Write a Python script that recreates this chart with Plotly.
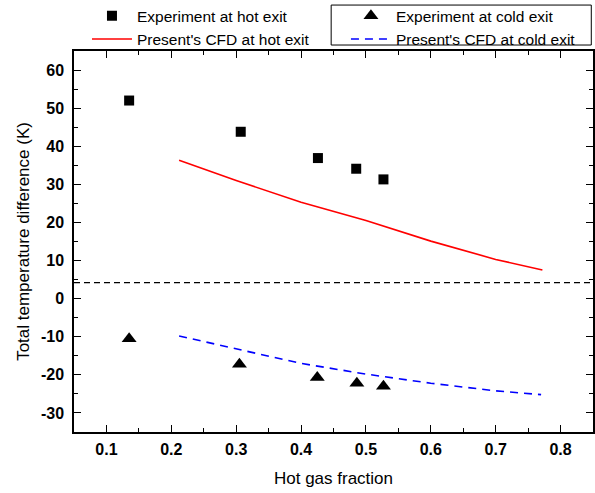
import plotly.graph_objects as go

# Experimental data
exp_x_hot = [0.135, 0.307, 0.426, 0.485, 0.527]
exp_hot = [52.0, 43.8, 36.9, 34.1, 31.3]
exp_x_cold = [0.135, 0.305, 0.425, 0.486, 0.527]
exp_cold = [-10.5, -17.2, -20.7, -22.2, -23.0]

# CFD results
cfd_x = [0.212, 0.3, 0.4, 0.5, 0.6, 0.7, 0.772]
cfd_hot = [36.3, 31.0, 25.3, 20.5, 15.1, 10.3, 7.5]
cfd_x_cold = [0.212, 0.3, 0.4, 0.5, 0.6, 0.7, 0.77]
cfd_cold = [-9.8, -13.1, -17.0, -19.8, -22.2, -24.2, -25.2]

ref_level = 4.2

x_ticks = [0.1, 0.2, 0.3, 0.4, 0.5, 0.6, 0.7, 0.8]
y_ticks = [-30, -20, -10, 0, 10, 20, 30, 40, 50, 60]

FONT = "Liberation Sans, Arial"

fig = go.Figure()
fig.add_trace(go.Scatter(x=exp_x_hot, y=exp_hot, mode="markers", name="Experiment at hot exit",
                         marker=dict(symbol="square", size=10, color="black"), legend="legend"))
fig.add_trace(go.Scatter(x=cfd_x, y=cfd_hot, mode="lines", name="Present's CFD at hot exit",
                         line=dict(color="red", width=1.6), legend="legend"))
fig.add_trace(go.Scatter(x=exp_x_cold, y=exp_cold, mode="markers", name="Experiment at cold exit",
                         marker=dict(symbol="triangle-up", size=13, color="black"), legend="legend2"))
fig.add_trace(go.Scatter(x=cfd_x_cold, y=cfd_cold, mode="lines", name="Present's CFD at cold exit",
                         line=dict(color="blue", width=1.6, dash="8px,6px"), legend="legend2"))

fig.add_hline(y=ref_level, line=dict(color="black", width=1.2, dash="6px,4px"))

axis_common = dict(showline=True, linecolor="black", linewidth=1.5, mirror="ticks",
                   ticks="inside", ticklen=7, tickwidth=1, tickcolor="black",
                   showgrid=False, zeroline=False,
                   tickfont=dict(family=FONT, size=16, color="black", weight="bold"),
                   minor=dict(ticks="inside", ticklen=4, tickwidth=1, tickcolor="black"))

fig.update_xaxes(range=[0.05, 0.85], tickvals=x_ticks, ticktext=[str(v) for v in x_ticks],
                 minor_dtick=0.05, ticklabelstandoff=2,
                 title=dict(text="Hot gas fraction", font=dict(family=FONT, size=17, color="black"), standoff=15),
                 **axis_common)
fig.update_yaxes(range=[-35, 65], tickvals=y_ticks, ticktext=[str(v) for v in y_ticks],
                 minor_dtick=5, ticklabelstandoff=5,
                 title=dict(text="Total temperature difference (K)", font=dict(family=FONT, size=17, color="black"), standoff=7),
                 **axis_common)

legend_font = dict(family=FONT, size=15.5, color="black")
fig.update_layout(
    width=595, height=493,
    margin=dict(l=74, r=2, t=51, b=61, autoexpand=False),
    plot_bgcolor="white", paper_bgcolor="white",
    legend=dict(x=0.025, y=1.1358, xanchor="left", yanchor="top", font=legend_font,
                bgcolor="rgba(0,0,0,0)", itemwidth=40, tracegroupgap=0),
    legend2=dict(x=0.524, y=1.1358, xanchor="left", yanchor="top", font=legend_font,
                 bgcolor="rgba(0,0,0,0)", itemwidth=40, tracegroupgap=0),
    shapes=[
        dict(type="rect", xref="paper", yref="paper", x0=0.0, x1=0.486, y0=1.0157, y1=1.1206,
             line=dict(color="black", width=1)),
        dict(type="rect", xref="paper", yref="paper", x0=0.4955, x1=0.9967, y0=1.0157, y1=1.1206,
             line=dict(color="black", width=1)),
    ],
)

fig.write_html("out.html")
